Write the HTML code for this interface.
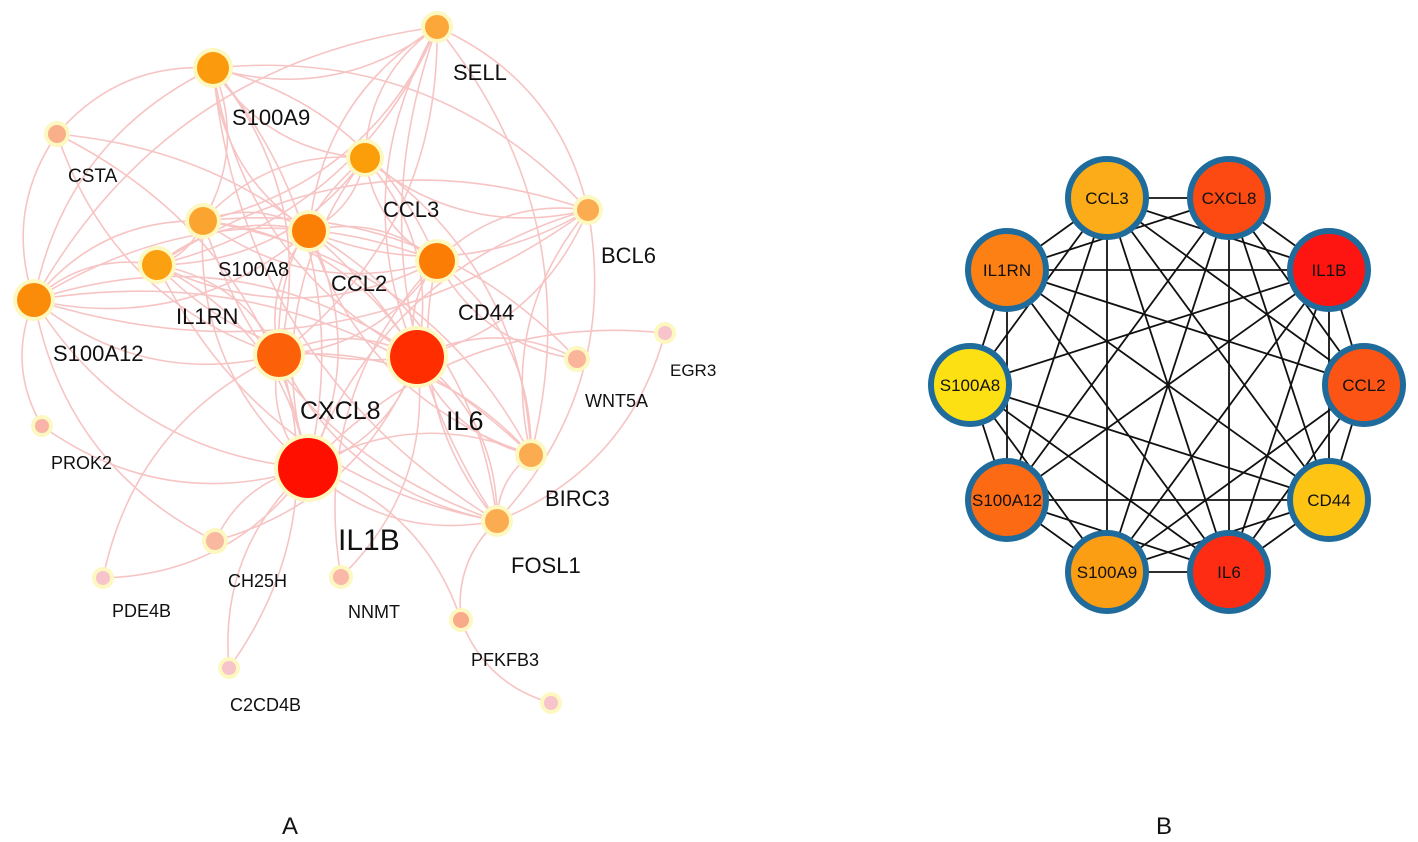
<!DOCTYPE html>
<html><head><meta charset="utf-8"><style>
html,body{margin:0;padding:0;background:#fff;}
svg{display:block;font-family:"Liberation Sans",Arial,sans-serif;}
</style></head><body>
<svg id="s" width="1418" height="842" viewBox="0 0 1418 842" xmlns="http://www.w3.org/2000/svg">
<g id="edgesA" fill="none" stroke="#f7c4c4" stroke-width="1.6"></g>
<g id="nodesA"></g>
<g font-size="22" fill="#111">
<text x="453" y="80">SELL</text>
<text x="232" y="125">S100A9</text>
<text x="68" y="182" font-size="19">CSTA</text>
<text x="383" y="217">CCL3</text>
<text x="601" y="263">BCL6</text>
<text x="218" y="276" font-size="20">S100A8</text>
<text x="331" y="291">CCL2</text>
<text x="458" y="320">CD44</text>
<text x="176" y="324">IL1RN</text>
<text x="53" y="361">S100A12</text>
<text x="300" y="419" font-size="25">CXCL8</text>
<text x="446" y="430" font-size="27">IL6</text>
<text x="585" y="407" font-size="18">WNT5A</text>
<text x="670" y="376" font-size="17">EGR3</text>
<text x="51" y="469" font-size="18">PROK2</text>
<text x="545" y="506">BIRC3</text>
<text x="338" y="550" font-size="30">IL1B</text>
<text x="511" y="573">FOSL1</text>
<text x="228" y="587" font-size="18">CH25H</text>
<text x="112" y="617" font-size="18">PDE4B</text>
<text x="348" y="618" font-size="18">NNMT</text>
<text x="471" y="666" font-size="18">PFKFB3</text>
<text x="230" y="711" font-size="18">C2CD4B</text>
<text x="282" y="834" font-size="24">A</text>
<text x="1156" y="834" font-size="24">B</text>
</g>
<g id="edgesB" stroke="#111" stroke-width="1.8"></g>
<g id="nodesB" stroke="#1f6c9c" stroke-width="6"></g>
<g font-size="17" fill="#111" text-anchor="middle">
<text x="1107" y="204">CCL3</text>
<text x="1229" y="204">CXCL8</text>
<text x="1329" y="276">IL1B</text>
<text x="1364" y="391">CCL2</text>
<text x="1329" y="506">CD44</text>
<text x="1229" y="578">IL6</text>
<text x="1107" y="578">S100A9</text>
<text x="1007" y="506">S100A12</text>
<text x="970" y="391">S100A8</text>
<text x="1007" y="276">IL1RN</text>
</g>
</svg>
<script>
var NS="http://www.w3.org/2000/svg";
function el(p,t,a){var e=document.createElementNS(NS,t);for(var k in a)e.setAttribute(k,a[k]);document.getElementById(p).appendChild(e);return e;}
var A={SELL:[437,27,12,"#fca73a"],S9:[213,68,16,"#fb9a0c"],CSTA:[57,134,9,"#f9b08a"],CCL3:[365,158,15,"#fb9e0a"],BCL6:[588,210,11,"#fbab50"],S8:[203,221,14,"#fba530"],CCL2:[309,231,17,"#fc7f05"],CD44:[437,261,18,"#fc7d05"],IL1RN:[157,265,15,"#fba010"],S12:[34,300,17,"#fb8c0a"],CXCL8:[279,355,22,"#fc6008"],IL6:[417,357,27,"#ff2d00"],WNT5A:[577,359,9,"#f9b49a"],EGR3:[665,333,7,"#f7c4cc"],PROK2:[42,426,7,"#f9b4a8"],BIRC3:[531,455,12,"#fbab50"],IL1B:[308,468,30,"#ff0f00"],FOSL1:[497,521,12,"#fbab50"],CH25H:[215,541,9,"#f9b8a0"],PDE4B:[103,578,7,"#f7c4cc"],NNMT:[341,577,8,"#f9b8a8"],PFKFB3:[461,620,8,"#f9aa8a"],C2:[229,668,7,"#f7c4cc"],X:[551,703,7,"#f7c4cc"]};
var main=["SELL","S9","CCL3","S8","CCL2","CD44","IL1RN","S12","CXCL8","IL6","IL1B","BIRC3","FOSL1","BCL6"];
var E=[];
for(var i=0;i<main.length;i++)for(var j=i+1;j<main.length;j++){if((i*7+j*3)%5!=0)E.push([main[i],main[j]]);}
E=E.concat([["CSTA","S9"],["CSTA","S12"],["CSTA","IL1B"],["CSTA","CXCL8"],["CSTA","IL6"],["WNT5A","IL6"],["WNT5A","CD44"],["WNT5A","S8"],["EGR3","FOSL1"],["EGR3","IL1B"],["PROK2","S12"],["PROK2","IL1B"],["CH25H","IL1B"],["CH25H","IL6"],["CH25H","S12"],["PDE4B","IL1B"],["PDE4B","CXCL8"],["NNMT","IL6"],["NNMT","CD44"],["PFKFB3","IL1B"],["PFKFB3","FOSL1"],["PFKFB3","X"],["C2","IL1B"],["C2","CXCL8"]]);
E.forEach(function(e,k){var a=A[e[0]],b=A[e[1]];var mx=(a[0]+b[0])/2,my=(a[1]+b[1])/2,dx=b[0]-a[0],dy=b[1]-a[1];var s=(k%2?0.25:-0.25);el("edgesA","path",{d:"M"+a[0]+","+a[1]+" Q"+(mx-dy*s)+","+(my+dx*s)+" "+b[0]+","+b[1]});});
for(var n in A){var v=A[n];el("nodesA","circle",{cx:v[0],cy:v[1],r:v[2]+4,fill:"#fdf7c0"});el("nodesA","circle",{cx:v[0],cy:v[1],r:v[2],fill:v[3]});}
var B=[[1107,198,"#fbac18"],[1229,198,"#fc4a12"],[1329,270,"#fe1410"],[1364,385,"#fc5414"],[1329,500,"#fdc414"],[1229,572,"#fd2c12"],[1107,572,"#fb9e14"],[1007,500,"#fc6a14"],[970,385,"#fde014"],[1007,270,"#fc8014"]];
for(var i=0;i<10;i++)for(var j=i+1;j<10;j++){if(i==3&&j==8)continue;if(j-i!=5&&(i+j*2)%7==3&&j-i>2)continue;el("edgesB","line",{x1:B[i][0],y1:B[i][1],x2:B[j][0],y2:B[j][1]});}
B.forEach(function(b){el("nodesB","circle",{cx:b[0],cy:b[1],r:39,fill:b[2]});});
</script>
</body></html>
